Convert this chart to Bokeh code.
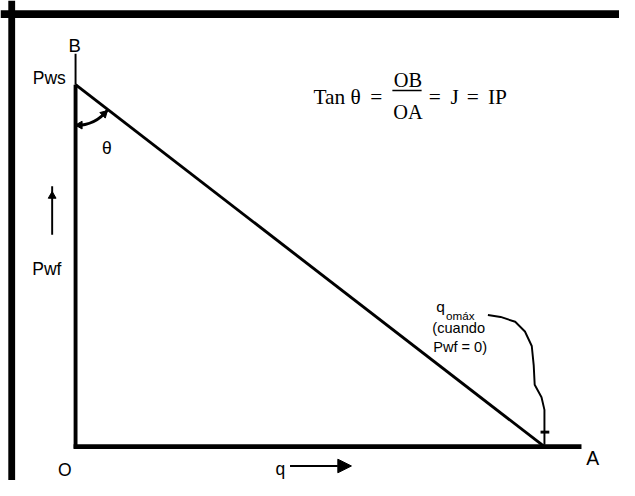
import math
from bokeh.plotting import figure
from bokeh.models import Range1d, Span, Arrow, NormalHead
from bokeh.core.properties import value
from bokeh.embed import file_html
from bokeh.resources import INLINE

# ---- data (IPR straight line, normalised units) ----
q_values = [0.0, 100.0]        # q at Pwf = Pws, and q_omax at Pwf = 0
pwf_values = [100.0, 0.0]      # Pws, 0
pws = pwf_values[0]
q_omax = q_values[1]
axis_labels = ["B", "Pws", "Pwf", "O", "q", "A"]
formula_parts = ["Tan \u03b8", "=", "OB", "OA", "=", "J", "=", "IP"]
note_lines = ["q", "om\u00e1x", "(cuando", "Pwf = 0)"]

# ---- layout: the figure shows a 635x496 drawing area scaled into 619x480 ----
W, H = 619, 480
REF_W, REF_H = 635, 496
KX, KY = W / REF_W, H / REF_H
K = (KX + KY) / 2
O_PX, O_PY = 77, 461        # origin in drawing pixels
SX, SY = 4.81, 3.74         # drawing pixels per data unit


def X(px):
    return (px - O_PX) / SX


def Y(py):
    return (O_PY - py) / SY


def fs(size):
    return f"{size * K:.1f}px"


p = figure(width=W, height=H, x_range=Range1d(X(0), X(REF_W)), y_range=Range1d(Y(REF_H), Y(0)),
           output_backend="svg", toolbar_location=None, min_border=0,
           x_axis_location=None, y_axis_location=None, outline_line_color=None,
           background_fill_color="white", border_fill_color="white")
p.xgrid.visible = False
p.ygrid.visible = False

# picture frame (top and left black bars)
p.add_layout(Span(location=Y(14), dimension="width", line_color="black", line_width=8 * KY))
p.add_layout(Span(location=X(11.5), dimension="height", line_color="black", line_width=7 * KX))

# axes of the diagram
p.line([0, 0], [Y(463), pws], line_color="black", line_width=4 * K)
p.line([0, 0], [pws, Y(55)], line_color="black", line_width=2 * K)
p.line([X(75), X(596)], [0, 0], line_color="black", line_width=5 * K)

# IPR line
p.line(q_values, pwf_values, line_color="black", line_width=3 * K)

# theta arc with arrowheads
ang = math.atan((pws * SY * KY) / (q_omax * SX * KX))
R = 42
p.arc(x=[0], y=[pws], radius=R * K, radius_units="screen",
      start_angle=-math.pi / 2, end_angle=-ang, line_color="black", line_width=3 * K)
px0, py0 = 77, 87
a1 = math.radians(-84)
a2 = -ang - math.radians(8)
hx = [X(px0 + R * math.cos(a1)), X(px0 + R * math.cos(a2))]
hy = [Y(py0 - R * math.sin(a1)), Y(py0 - R * math.sin(a2))]
p.scatter(hx, hy, marker="triangle", size=8 * K, angle=[math.pi / 2, a2],
          fill_color="black", line_color="black")

# Pwf arrow
p.line([X(53), X(53)], [Y(242), Y(192)], line_color="black", line_width=2 * K)
p.scatter([X(53)], [Y(202)], marker="triangle", size=8 * K, fill_color="black", line_color="black")

# q arrow
p.add_layout(Arrow(x_start=X(297), y_start=Y(481), x_end=X(360), y_end=Y(481), line_width=2 * K,
                   end=NormalHead(size=14 * K, fill_color="black", line_color="black")))

# curly arrow from the note to q_omax
cx = [500, 513, 528, 538, 545, 547, 548, 555, 558, 558, 558]
cy = [325, 327, 332, 342, 357, 377, 397, 410, 423, 446, 459]
p.line([X(v) for v in cx], [Y(v) for v in cy], line_color="black", line_width=2 * K)
p.scatter([X(558.5)], [Y(446)], marker="dash", size=9 * K, line_width=3 * K, line_color="black")

sans = value("Liberation Sans")
serif = value("Liberation Serif")


def label(px, py, txt, size, align="center", font=sans):
    p.text(x=[X(px)], y=[Y(py)], text=[txt], text_font=font, text_font_size=fs(size),
           text_align=align, text_baseline="alphabetic", text_color="black")


label(76, 47, axis_labels[0], 19)
label(67, 80, axis_labels[1], 18, "right")
label(47.5, 277, axis_labels[2], 18)
label(66, 485, axis_labels[3], 18)
label(282, 484, axis_labels[4], 18, "left")
label(607.5, 473, axis_labels[5], 20)
label(109, 152, "\u03b8", 18)

# formula
label(321, 99.5, formula_parts[0], 22, "left", serif)
label(385.5, 99.5, formula_parts[1], 22, "center", serif)
label(418, 82, formula_parts[2], 21, "center", serif)
label(418, 115, formula_parts[3], 21, "center", serif)
p.line([X(402), X(432)], [Y(93), Y(93)], line_color="black", line_width=1.5)
label(445.5, 99.5, formula_parts[4], 22, "center", serif)
label(466, 99.5, formula_parts[5], 22, "center", serif)
label(484.5, 99.5, formula_parts[6], 22, "center", serif)
label(500, 99.5, formula_parts[7], 22, "left", serif)

# note
label(447, 316.5, note_lines[0], 16, "left")
label(457, 325, note_lines[1], 12, "left")
label(470, 338, note_lines[2], 15)
label(471.5, 358, note_lines[3], 15)

open("out.html", "w").write(file_html(p, INLINE))
